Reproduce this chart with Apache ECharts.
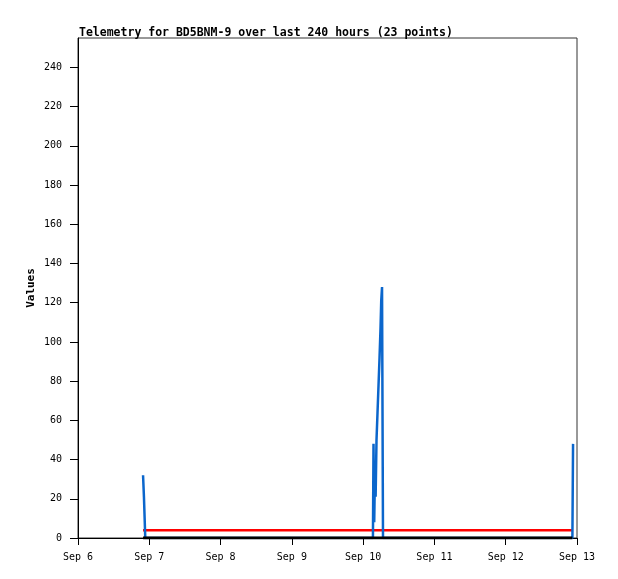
<!DOCTYPE html>
<html>
<head>
<meta charset="utf-8">
<script src="https://cdn.jsdelivr.net/npm/echarts@6/dist/echarts.min.js"></script>
<style>html,body{margin:0;padding:0;background:#fff}#c{width:618px;height:579px}</style>
</head>
<body>
<div id="c"></div>
<script>
// hours since Sep 6 00:00
const dayLabels = ['Sep 6','Sep 7','Sep 8','Sep 9','Sep 10','Sep 11','Sep 12','Sep 13'];
const yTicks = [0,20,40,60,80,100,120,140,160,180,200,220,240];
const times = [21.9, 22.2, 22.65,
  99.3, 99.49, 99.73, 100.0, 100.2, 100.5, 100.84, 101.18, 101.52, 101.85, 102.09, 102.36, 102.69,
  166.45, 166.67];
const blueValues = [32, 21, 0,
  0, 48, 8, 36, 21, 50, 64, 78, 92, 107, 121, 128, 0,
  0, 48];
const redValues = times.map(() => 4);
const blackValues = times.map(() => 0);

const pair = (vals) => times.map((t, i) => [t, vals[i]]);
const mono = '"DejaVu Sans Mono", monospace';

const chart = echarts.init(document.getElementById('c'), null, {renderer: 'canvas'});
chart.setOption({
  animation: false,
  backgroundColor: '#fff',
  title: {
    text: 'Telemetry for BD5BNM-9 over last 240 hours (23 points)',
    left: 74, top: 22,
    textStyle: {fontFamily: mono, fontSize: 11.5, fontWeight: 'bold', color: '#000'}
  },
  grid: {left: 78, right: 41, top: 38, bottom: 41, show: true, borderColor: '#333', borderWidth: 1, backgroundColor: '#fff'},
  xAxis: {
    type: 'value', min: 0, max: 168, interval: 24,
    axisLine: {show: true, onZero: false, lineStyle: {color: '#000', width: 1}},
    axisTick: {show: true, length: 7, lineStyle: {color: '#000'}},
    splitLine: {show: false},
    axisLabel: {
      margin: 14, fontFamily: mono, fontSize: 10, color: '#000',
      showMinLabel: true, showMaxLabel: true,
      formatter: (v) => dayLabels[Math.round(v / 24)]
    }
  },
  yAxis: {
    type: 'value', min: 0, max: 255,
    name: 'Values', nameLocation: 'middle', nameRotate: 90, nameGap: 41, nameMoveOverlap: false,
    nameTextStyle: {fontFamily: mono, fontSize: 11, fontWeight: 'bold', color: '#000'},
    axisLine: {show: true, lineStyle: {color: '#000', width: 1}},
    axisTick: {show: true, length: 8, customValues: yTicks, lineStyle: {color: '#000'}},
    splitLine: {show: false},
    axisLabel: {margin: 16, fontFamily: mono, fontSize: 10, color: '#000', customValues: yTicks}
  },
  series: [
    {type: 'line', data: pair(redValues), showSymbol: false, lineStyle: {color: '#ff0000', width: 2.5}, z: 2},
    {type: 'line', step: 'end', data: pair(blueValues), showSymbol: false, lineStyle: {color: '#0b66cc', width: 2.5}, z: 3},
    {type: 'line', data: pair(blackValues), showSymbol: false, lineStyle: {color: '#000', width: 3}, z: 4}
  ]
});
</script>
</body>
</html>
